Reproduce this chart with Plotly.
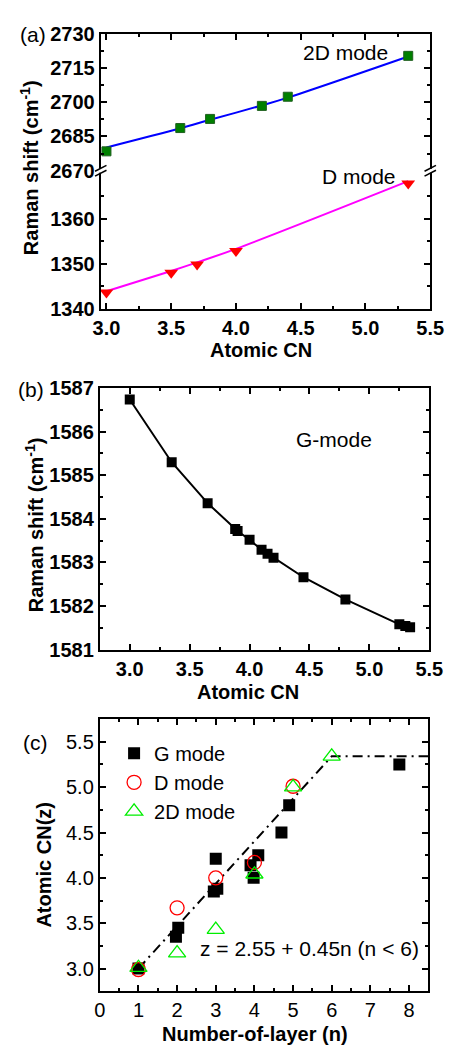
import plotly.graph_objects as go

# ---------------- data ----------------
# panel (a): 2D mode (top segment) and D mode (bottom segment)
cn_2d = [3.0, 3.57, 3.80, 4.20, 4.40, 5.33]
shift_2d = [2678.5, 2688.7, 2692.7, 2698.4, 2702.4, 2720.3]
fit_cn_2d = [3.0, 3.57, 3.80, 4.20, 4.40, 5.33]
fit_2d = [2680.2, 2688.6, 2692.3, 2698.6, 2702.0, 2720.0]

cn_d = [3.0, 3.5, 3.7, 4.0, 5.33]
shift_d = [1343.6, 1348.0, 1349.8, 1352.8, 1367.8]
fit_cn_d = [3.0, 3.5, 3.7, 4.0, 5.33]
fit_d = [1343.9, 1348.4, 1350.3, 1353.3, 1368.3]

# panel (b): G mode
cn_g = [3.0, 3.35, 3.65, 3.88, 3.90, 4.0, 4.10, 4.15, 4.20, 4.45, 4.80, 5.25, 5.30, 5.34]
shift_g = [1586.74, 1585.30, 1584.36, 1583.77, 1583.72, 1583.52, 1583.29, 1583.20,
           1583.11, 1582.66, 1582.15, 1581.58, 1581.54, 1581.51]

# panel (c): atomic CN vs number of layers
n_g = [1.0, 1.97, 2.03, 2.95, 3.04, 3.0, 3.9, 3.98, 4.1, 4.7, 4.9, 7.75]
z_g = [3.0, 3.35, 3.45, 3.85, 3.88, 4.21, 4.14, 4.0, 4.25, 4.5, 4.8, 5.25]
n_d = [1, 2, 3, 4, 5]
z_d = [2.99, 3.67, 4.0, 4.17, 5.01]
n_2d = [1, 2, 3, 4, 5, 6]
z_2d = [3.01, 3.17, 3.43, 4.04, 5.0, 5.34]
fit_n = [1.0, 6.0, 8.5]
fit_z = [3.0, 5.34, 5.34]

W, H = 461, 1055
OFF = 8  # page body margin

def px(x):
    return (x - OFF) / W
def py(y):
    return 1 - (y - OFF) / H

FONT = "Arial, Liberation Sans, sans-serif"

fig = go.Figure()

# ---- panel (a)
fig.add_trace(go.Scatter(x=fit_cn_2d, y=fit_2d, mode="lines", line=dict(color="#0000FF", width=2, shape="spline"),
                         xaxis="x2", yaxis="y2", showlegend=False))
fig.add_trace(go.Scatter(x=cn_2d, y=shift_2d, mode="markers",
                         marker=dict(symbol="square", size=9, color="#008000", line=dict(color="#1f5f1f", width=1)),
                         xaxis="x2", yaxis="y2", showlegend=False))
fig.add_trace(go.Scatter(x=fit_cn_d, y=fit_d, mode="lines", line=dict(color="#FF00FF", width=2, shape="spline"),
                         xaxis="x", yaxis="y", showlegend=False))
fig.add_trace(go.Scatter(x=cn_d, y=shift_d, mode="markers",
                         marker=dict(symbol="triangle-down", size=12, color="#FF0000", line=dict(width=0)),
                         xaxis="x", yaxis="y", showlegend=False))

# ---- panel (b)
fig.add_trace(go.Scatter(x=cn_g, y=shift_g, mode="lines+markers",
                         line=dict(color="black", width=2),
                         marker=dict(symbol="square", size=10, color="black"),
                         xaxis="x3", yaxis="y3", showlegend=False))

# ---- panel (c)
fig.add_trace(go.Scatter(x=fit_n, y=fit_z, mode="lines",
                         line=dict(color="black", width=2, dash="10px,5px,2px,5px"),
                         xaxis="x4", yaxis="y4", showlegend=False))
fig.add_trace(go.Scatter(x=n_g, y=z_g, mode="markers", name="G mode",
                         marker=dict(symbol="square", size=12, color="black"),
                         xaxis="x4", yaxis="y4"))
fig.add_trace(go.Scatter(x=n_d, y=z_d, mode="markers", name="D mode",
                         marker=dict(symbol="circle-open", size=14, color="#FF0000", line=dict(width=1.3)),
                         xaxis="x4", yaxis="y4"))
fig.add_trace(go.Scatter(x=n_2d, y=z_2d, mode="markers", name="2D mode",
                         marker=dict(symbol="triangle-up-open", size=15, color="#00EE00", line=dict(width=1.3)),
                         xaxis="x4", yaxis="y4"))

bold = dict(family=FONT, size=20, color="black", weight="bold")
normal = dict(family=FONT, size=20, color="black")

def ax(**kw):
    d = dict(showgrid=False, zeroline=False, showline=True, linecolor="black", linewidth=2,
             ticks="inside", ticklen=6, tickwidth=1.5, tickcolor="black")
    d.update(kw)
    return d

fig.update_layout(
    width=W, height=H, margin=dict(l=0, r=0, t=0, b=0),
    paper_bgcolor="white", plot_bgcolor="white",
    font=dict(family=FONT, size=20, color="black"),
    # panel (a)
    xaxis=ax(domain=[px(97), px(443)], range=[2.956, 5.5], anchor="y", dtick=0.5, tick0=3.0,
             tickformat=".1f", tickfont=bold, mirror=False,
             minor=dict(ticks="inside", ticklen=3, dtick=0.25, tick0=3.0, tickcolor="black")),
    yaxis=ax(domain=[py(304), py(163)], range=[1340, 1370.6], anchor="x",
             tickvals=[1340, 1350, 1360], tickfont=bold, mirror="ticks",
             minor=dict(ticks="inside", ticklen=3, tickvals=[1345, 1355, 1365], tickcolor="black")),
    xaxis2=ax(domain=[px(97), px(443)], range=[2.956, 5.5], anchor="y2", side="top", matches="x",
              dtick=0.5, tick0=3.0, showticklabels=False, mirror=False,
              minor=dict(ticks="inside", ticklen=3, dtick=0.25, tick0=3.0, tickcolor="black")),
    yaxis2=ax(domain=[py(163), py(23)], range=[2670, 2730], anchor="x2",
              tickvals=[2670, 2685, 2700, 2715, 2730], tickfont=bold, mirror="ticks",
              minor=dict(ticks="inside", ticklen=3, dtick=7.5, tick0=2670, tickcolor="black")),
    # panel (b)
    xaxis3=ax(domain=[px(96), px(442)], range=[2.75, 5.5], anchor="y3", dtick=0.5, tick0=3.0,
              tickformat=".1f", tickfont=bold, mirror="ticks",
              minor=dict(ticks="inside", ticklen=3, dtick=0.25, tick0=3.0, tickcolor="black")),
    yaxis3=ax(domain=[py(652), py(385)], range=[1581, 1587], anchor="x3", dtick=1, tickfont=bold,
              mirror="ticks",
              minor=dict(ticks="inside", ticklen=3, dtick=0.5, tick0=1581, tickcolor="black")),
    # panel (c)
    xaxis4=ax(domain=[px(96), px(441)], range=[0, 8.5], anchor="y4", dtick=1, tick0=0,
              tickfont=normal, mirror="ticks",
              minor=dict(ticks="inside", ticklen=3, dtick=0.5, tick0=0, tickcolor="black")),
    yaxis4=ax(domain=[py(1001), py(723)], range=[2.75, 5.75], anchor="x4", dtick=0.5, tick0=3.0,
              tickformat=".1f", tickfont=normal, mirror="ticks",
              minor=dict(ticks="inside", ticklen=3, dtick=0.25, tick0=2.75, tickcolor="black")),
    legend=dict(x=px(111), y=py(738), xanchor="left", yanchor="top", bgcolor="rgba(0,0,0,0)",
                font=dict(family=FONT, size=20, color="black"), tracegroupgap=0),
)

def ann(text, x, y, font, angle=0, xanchor="center"):
    fig.add_annotation(text=text, x=px(x), y=py(y), xref="paper", yref="paper", showarrow=False,
                       font=font, textangle=angle, xanchor=xanchor, yanchor="middle")

txt = dict(family=FONT, size=21, color="black")
ann("(a)", 26, 24, txt)
ann("(b)", 24, 386, txt)
ann("(c)", 28, 747, txt)
ann("2D mode", 354, 42, txt)
ann("D mode", 368, 169, txt)
ann("G-mode", 342, 437, txt)
ann("z = 2.55 + 0.45n (n < 6)", 316, 957, txt)
ann("Atomic CN", 265, 346, bold)
ann("Atomic CN", 252, 695, bold)
ann("Number-of-layer (n)", 259, 1045, bold)
ann("Raman shift (cm<sup>-1</sup>)", 22, 160, bold, angle=-90)
ann("Raman shift (cm<sup>-1</sup>)", 27, 525, bold, angle=-90)
ann("Atomic CN(z)", 37, 872, bold, angle=-90)

# axis break marks
for bx in (97, 443):
    fig.add_shape(type="rect", x0=px(bx - 2), x1=px(bx + 2), y0=py(165), y1=py(161), xref="paper", yref="paper",
                  line=dict(width=0), fillcolor="white")
    for dy in (-2.5, 2.5):
        fig.add_shape(type="line", x0=px(bx - 6), x1=px(bx + 6), y0=py(163 + dy + 3), y1=py(163 + dy - 3),
                      xref="paper", yref="paper", line=dict(color="black", width=1.5))

fig.write_html("out.html")
